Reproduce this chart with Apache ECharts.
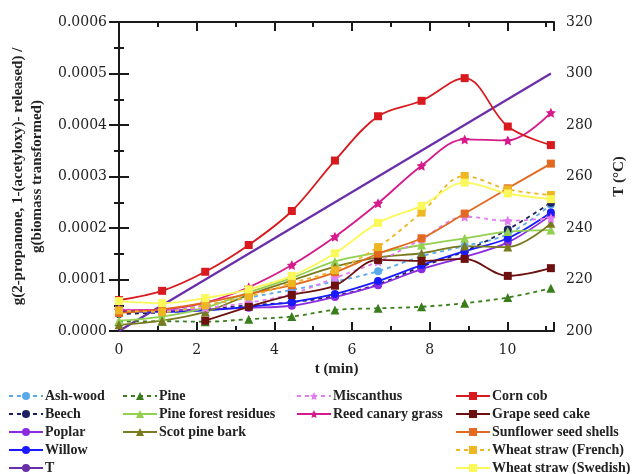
<!DOCTYPE html>
<html>
<head>
<meta charset="utf-8">
<script src="https://cdn.jsdelivr.net/npm/echarts@6/dist/echarts.min.js"></script>
<style>
  html, body { margin: 0; padding: 0; background: #fff; }
  #chart { width: 635px; height: 474px; }
</style>
</head>
<body>
<div id="chart"></div>
<script>
// Sampling times (min)
const times = [0, 1.11, 2.22, 3.34, 4.45, 5.56, 6.67, 7.79, 8.9, 10.01, 11.12];

// g(2-propanone, 1-(acetyloxy)- released) / g(biomass transformed)
const ashWood      = [0.35e-4, 0.38e-4, 0.50e-4, 0.65e-4, 0.80e-4, 0.96e-4, 1.16e-4, 1.45e-4, 1.65e-4, 1.88e-4, 2.45e-4];
const beech        = [0.33e-4, 0.36e-4, 0.42e-4, 0.50e-4, 0.56e-4, 0.68e-4, 0.91e-4, 1.25e-4, 1.55e-4, 1.97e-4, 2.49e-4];
const poplar       = [0.40e-4, 0.40e-4, 0.42e-4, 0.45e-4, 0.49e-4, 0.66e-4, 0.89e-4, 1.20e-4, 1.44e-4, 1.72e-4, 2.25e-4];
const willow       = [0.38e-4, 0.37e-4, 0.40e-4, 0.47e-4, 0.56e-4, 0.72e-4, 0.97e-4, 1.28e-4, 1.55e-4, 1.80e-4, 2.30e-4];
const pine         = [0.18e-4, 0.19e-4, 0.18e-4, 0.23e-4, 0.28e-4, 0.41e-4, 0.44e-4, 0.47e-4, 0.54e-4, 0.65e-4, 0.83e-4];
const pineForest   = [0.20e-4, 0.28e-4, 0.45e-4, 0.75e-4, 1.03e-4, 1.35e-4, 1.52e-4, 1.67e-4, 1.80e-4, 1.93e-4, 1.96e-4];
const scotPineBark = [0.12e-4, 0.20e-4, 0.37e-4, 0.70e-4, 0.98e-4, 1.25e-4, 1.43e-4, 1.51e-4, 1.65e-4, 1.63e-4, 2.09e-4];
const miscanthus   = [0.42e-4, 0.40e-4, 0.45e-4, 0.55e-4, 0.72e-4, 1.03e-4, 1.35e-4, 1.78e-4, 2.22e-4, 2.14e-4, 2.19e-4];
const reedCanary   = [0.40e-4, 0.42e-4, 0.55e-4, 0.85e-4, 1.28e-4, 1.83e-4, 2.48e-4, 3.21e-4, 3.72e-4, 3.70e-4, 4.24e-4];
const cornCob      = [0.60e-4, 0.78e-4, 1.15e-4, 1.67e-4, 2.33e-4, 3.31e-4, 4.17e-4, 4.47e-4, 4.91e-4, 3.97e-4, 3.61e-4];
const grapeSeed    = [null, null, 0.20e-4, 0.47e-4, 0.70e-4, 0.88e-4, 1.38e-4, 1.36e-4, 1.40e-4, 1.07e-4, 1.22e-4];
const sunflower    = [0.35e-4, 0.42e-4, 0.55e-4, 0.72e-4, 0.89e-4, 1.14e-4, 1.50e-4, 1.80e-4, 2.28e-4, 2.77e-4, 3.25e-4];
const wheatFrench  = [0.40e-4, 0.37e-4, 0.50e-4, 0.67e-4, 0.93e-4, 1.18e-4, 1.63e-4, 2.30e-4, 3.01e-4, 2.75e-4, 2.64e-4];
const wheatSwedish = [0.58e-4, 0.54e-4, 0.64e-4, 0.81e-4, 1.07e-4, 1.51e-4, 2.10e-4, 2.43e-4, 2.88e-4, 2.67e-4, 2.56e-4];

// Temperature ramp (°C)
const tempTimes  = [0, 11.12];
const tempValues = [200, 300];

// Axis tick labels
const yLeftTicks  = ['0.0000', '0.0001', '0.0002', '0.0003', '0.0004', '0.0005', '0.0006'];
const yRightTicks = [200, 220, 240, 260, 280, 300, 320];
const xTicks      = [0, 2, 4, 6, 8, 10];

const SERIF = '"Liberation Serif", "DejaVu Serif", serif';
const TICKFONT = '"DejaVu Serif", serif';
const STAR = 'path://M0,-10 L2.9,-4 L9.5,-3.1 L4.7,1.5 L5.9,8.1 L0,5 L-5.9,8.1 L-4.7,1.5 L-9.5,-3.1 L-2.9,-4 Z';

function pairs(xs, ys) {
  return xs.map((x, i) => [x, ys[i]]).filter(p => p[1] !== null);
}

function mk(name, values, color, symbol, dash, size) {
  return {
    name: name,
    type: 'line',
    smooth: 0.35,
    data: pairs(times, values),
    symbol: symbol,
    symbolSize: size || 8,
    showSymbol: true,
    lineStyle: { color: color, width: 1.8, type: dash ? [4, 4] : 'solid' },
    itemStyle: { color: color },
    emphasis: { disabled: true },
    z: 3
  };
}

const series = [
  mk('Ash-wood', ashWood, '#5aa9ea', 'circle', true),
  mk('Beech', beech, '#1c2060', 'circle', true),
  mk('Poplar', poplar, '#8a2be2', 'circle', false),
  mk('Willow', willow, '#1a1aff', 'circle', false),
  {
    name: 'T', type: 'line', yAxisIndex: 1, xAxisIndex: 0,
    data: pairs(tempTimes, tempValues),
    symbol: 'none', showSymbol: false,
    lineStyle: { color: '#6a2ea8', width: 2.2 },
    itemStyle: { color: '#6a2ea8' },
    emphasis: { disabled: true }, z: 2
  },
  mk('Pine', pine, '#3a7d1c', 'triangle', true, 9),
  mk('Pine forest residues', pineForest, '#92d050', 'triangle', false, 9),
  mk('Scot pine bark', scotPineBark, '#7a7a1e', 'triangle', false, 9),
  mk('Miscanthus', miscanthus, '#e27cf2', STAR, true, 10),
  mk('Reed canary grass', reedCanary, '#d61a8c', STAR, false, 10),
  mk('Corn cob', cornCob, '#d8191e', 'rect', false),
  mk('Grape seed cake', grapeSeed, '#6d1010', 'rect', false),
  mk('Sunflower seed shells', sunflower, '#e2691f', 'rect', false),
  mk('Wheat straw (French)', wheatFrench, '#eeb623', 'rect', true),
  mk('Wheat straw (Swedish)', wheatSwedish, '#fbf95a', 'rect', false)
];

function legendCol(left, names) {
  return {
    data: names,
    orient: 'vertical',
    left: left,
    top: 389,
    height: 140,
    itemWidth: 34,
    itemHeight: 10,
    itemGap: 4,
    padding: 0,
    selectedMode: false,
    textStyle: { fontFamily: SERIF, fontWeight: 'bold', fontSize: 14, color: '#222', padding: [0, 0, 0, -3], lineHeight: 14 }
  };
}

const axisLineStyle = { color: '#1a1a1a', width: 2 };
const tickStyle = { color: '#1a1a1a', width: 2 };

const option = {
  animation: false,
  backgroundColor: '#ffffff',
  grid: { left: 119, right: 68, top: 22, bottom: 143, containLabel: false },
  legend: [
    legendCol(8, ['Ash-wood', 'Beech', 'Poplar', 'Willow', 'T']),
    legendCol(122, ['Pine', 'Pine forest residues', 'Scot pine bark']),
    legendCol(296, ['Miscanthus', 'Reed canary grass']),
    legendCol(455, ['Corn cob', 'Grape seed cake', 'Sunflower seed shells', 'Wheat straw (French)', 'Wheat straw (Swedish)'])
  ],
  xAxis: [
    {
      type: 'value', position: 'bottom', min: 0, max: 11.2, interval: 2,
      name: 't (min)', nameLocation: 'middle', nameGap: 30,
      nameTextStyle: { fontFamily: SERIF, fontWeight: 'bold', fontSize: 15, color: '#222' },
      axisLine: { show: true, lineStyle: axisLineStyle },
      axisTick: { show: true, inside: true, length: 9, lineStyle: tickStyle },
      minorTick: { show: true, splitNumber: 2, length: 5, lineStyle: tickStyle },
      axisLabel: {
        fontFamily: TICKFONT, fontSize: 14, color: '#222', margin: 12,
        formatter: v => (xTicks.indexOf(v) >= 0 ? String(v) : '')
      },
      splitLine: { show: false }
    },
    {
      type: 'value', position: 'top', min: 0, max: 11.2, interval: 2,
      axisLine: { show: true, lineStyle: axisLineStyle },
      axisTick: { show: true, inside: true, length: 9, lineStyle: tickStyle },
      minorTick: { show: true, splitNumber: 2, length: 5, lineStyle: tickStyle },
      axisLabel: { show: false },
      splitLine: { show: false }
    }
  ],
  yAxis: [
    {
      type: 'value', position: 'left', min: 0, max: 0.0006, interval: 0.0001,
      name: 'g(2-propanone, 1-(acetyloxy)- released) /\ng(biomass transformed)',
      nameLocation: 'middle', nameGap: 60, nameRotate: 90,
      nameTextStyle: { fontFamily: SERIF, fontWeight: 'bold', fontSize: 15, color: '#222', lineHeight: 19, align: 'center' },
      axisLine: { show: true, lineStyle: axisLineStyle },
      axisTick: { show: true, inside: true, length: 10, lineStyle: tickStyle },
      minorTick: { show: true, splitNumber: 2, length: 5, lineStyle: tickStyle },
      axisLabel: {
        fontFamily: TICKFONT, fontSize: 14, color: '#222', margin: 12,
        formatter: v => yLeftTicks[Math.round(v / 0.0001)]
      },
      splitLine: { show: false }
    },
    {
      type: 'value', position: 'right', min: 200, max: 320, interval: 20,
      name: 'T (°C)', nameLocation: 'middle', nameGap: 58, nameRotate: 90,
      nameTextStyle: { fontFamily: SERIF, fontWeight: 'bold', fontSize: 15, color: '#222' },
      axisLine: { show: true, lineStyle: axisLineStyle },
      axisTick: { show: true, inside: true, length: 10, lineStyle: tickStyle },
      minorTick: { show: true, splitNumber: 2, length: 5, lineStyle: tickStyle },
      axisLabel: {
        fontFamily: TICKFONT, fontSize: 14, color: '#222', margin: 12,
        formatter: v => (yRightTicks.indexOf(v) >= 0 ? String(v) : '')
      },
      splitLine: { show: false }
    }
  ],
  series: series
};

const chart = echarts.init(document.getElementById('chart'), null, { renderer: 'canvas' });
chart.setOption(option);
</script>
</body>
</html>
